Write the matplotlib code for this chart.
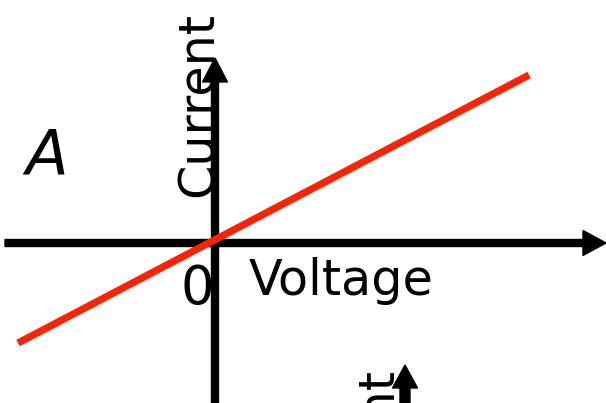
import matplotlib
matplotlib.use("Agg")
import matplotlib.pyplot as plt

# ohmic conductor: current proportional to voltage
voltage = [-1.97, 3.14]
current = [-1.00, 1.68]

panel_label = "A"
x_label = "Voltage"
y_label = "Current"
origin_label = "0"

fig = plt.figure(figsize=(6.06, 4.03), dpi=100)
ax = fig.add_axes([0, 0, 1, 1])
ax.set_xlim(-2.15, 3.91)
ax.set_ylim(-1.60, 2.43)
ax.axis('off')

# axes drawn as arrows through the origin
ax.arrow(-2.10, 0, 6.01, 0, width=0.07, head_width=0.25, head_length=0.23,
         length_includes_head=True, color='k', zorder=2)
ax.arrow(0, -1.62, 0, 3.47, width=0.07, head_width=0.25, head_length=0.24,
         length_includes_head=True, color='k', zorder=2)

# the I-V line
ax.plot(voltage, current, color='#ff2200', lw=5.2, solid_capstyle='butt', zorder=3)

ax.text(-1.90, 0.68, panel_label, fontsize=45, fontstyle='italic',
        ha='left', va='baseline')
ax.text(-0.02, 2.31, y_label, fontsize=35.5, rotation=90, rotation_mode='anchor',
        ha='right', va='baseline')
ax.text(-0.18, -0.61, origin_label, fontsize=38, ha='center', va='baseline')
ax.text(0.34, -0.52, x_label, fontsize=35.5, ha='left', va='baseline')

# bit of the next panel, cut off at the bottom
ax.arrow(1.90, -1.70, 0, 0.48, width=0.10, head_width=0.25, head_length=0.23,
         length_includes_head=True, color='k', zorder=2)
ax.text(1.78, -1.25, y_label, fontsize=35.5, rotation=90, rotation_mode='anchor',
        ha='right', va='baseline')

fig.savefig("out.png", dpi=100)
